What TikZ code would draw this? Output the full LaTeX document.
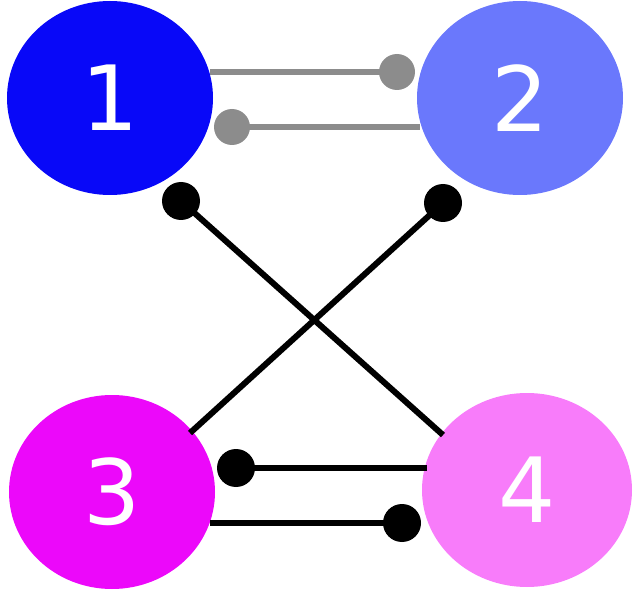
\documentclass[tikz,border=0pt]{standalone}
\usepackage{fontspec}
\setmainfont{DejaVu Sans}
\usetikzlibrary{shapes.geometric}
\begin{document}
\begin{tikzpicture}[x=1pt,y=-1pt,
  blob/.style={ellipse,minimum width=206pt,minimum height=194pt,inner sep=0pt,text=white,font=\fontsize{90}{90}\selectfont},
  gline/.style={line width=6pt,draw=gray!90},
  bline/.style={line width=6pt,draw=black},
  gdot/.style={fill=gray!90},
  bdot/.style={fill=black}]
\useasboundingbox (0,0) rectangle (633,599);
\node[blob,fill={rgb,255:red,8;green,8;blue,248}] (n1) at (110,98) {1};
\node[blob,fill={rgb,255:red,106;green,120;blue,252}] (n2) at (520,98) {2};
\node[blob,fill={rgb,255:red,236;green,8;blue,250}] (n3) at (112,492) {3};
\node[blob,fill={rgb,255:red,248;green,124;blue,250},minimum width=210pt] (n4) at (527,490) {4};
\coordinate (d12) at (397,72);
\coordinate (d21) at (232,127);
\coordinate (d41) at (181,201);
\coordinate (d32) at (443,203);
\coordinate (d34) at (236,468);
\coordinate (d43) at (402,523);
\draw[gline] (n1.east|-d12) ++(-3,0) -- (d12);
\draw[gline] (d21) -- ([xshift=3pt]n2.west|-d21);
\draw[bline] (d41) -- (443,435);
\draw[bline] (d32) -- (190,433);
\draw[bline] (d34) -- (427,468);
\draw[bline] (210,523) -- (d43);
\fill[gdot] (d12) circle (18);
\fill[gdot] (d21) circle (18);
\fill[bdot] (d41) circle (19);
\fill[bdot] (d32) circle (19);
\fill[bdot] (d34) circle (19);
\fill[bdot] (d43) circle (19);
\end{tikzpicture}
\end{document}
